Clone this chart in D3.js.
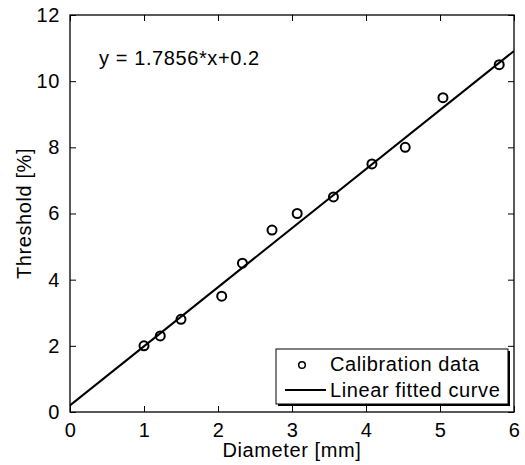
<!DOCTYPE html>
<html>
<head>
<meta charset="utf-8">
<script src="https://cdn.jsdelivr.net/npm/d3@7"></script>
<style>
  body { margin: 0; background: #fff; }
  text { font-family: "Liberation Sans", Arial, sans-serif; fill: #000; letter-spacing: 0.6px; }
</style>
</head>
<body>
<div id="chart"></div>
<script>
// calibration points
var diameter  = [1.0, 1.22, 1.5, 2.05, 2.33, 2.73, 3.07, 3.56, 4.08, 4.53, 5.04, 5.8];
var threshold = [2.0, 2.3, 2.8, 3.5, 4.5, 5.5, 6.0, 6.5, 7.5, 8.0, 9.5, 10.5];
var slope = 1.7856, intercept = 0.2;
var xTicks = [0, 1, 2, 3, 4, 5, 6];
var yTicks = [0, 2, 4, 6, 8, 10, 12];

var width = 525, height = 465;
var margin = {left: 70, right: 11, top: 15, bottom: 53};
var fs = "20px";

var svg = d3.select("#chart").append("svg")
    .attr("width", width)
    .attr("height", height);

var xScale = d3.scaleLinear().domain([0, 6]).range([margin.left, width - margin.right]);
var yScale = d3.scaleLinear().domain([0, 12]).range([height - margin.bottom, margin.top]);

var data = diameter.map((d, i) => ({x: d, y: threshold[i]}));

/* axes: ticks inside, on all four sides */
var tickLen = 6;
svg.append("g")
    .attr("transform", `translate(0, ${yScale(0)})`)
    .call(d3.axisBottom(xScale).tickValues(xTicks).tickSize(-tickLen).tickPadding(11).tickFormat(d3.format("d")))
    .call(g => g.selectAll("text").style("font-size", fs))
    .call(g => g.select(".domain").remove());
svg.append("g")
    .attr("transform", `translate(0, ${yScale(12)})`)
    .call(d3.axisTop(xScale).tickValues(xTicks).tickSize(-tickLen).tickFormat(""))
    .call(g => g.select(".domain").remove());
svg.append("g")
    .attr("transform", `translate(${xScale(0)}, 0)`)
    .call(d3.axisLeft(yScale).tickValues(yTicks).tickSize(-tickLen).tickPadding(10).tickFormat(d3.format("d")))
    .call(g => g.selectAll("text").style("font-size", fs))
    .call(g => g.select(".domain").remove());
svg.append("g")
    .attr("transform", `translate(${xScale(6)}, 0)`)
    .call(d3.axisRight(yScale).tickValues(yTicks).tickSize(-tickLen).tickFormat(""))
    .call(g => g.select(".domain").remove());

svg.selectAll(".tick line").attr("stroke", "#000");

svg.append("rect")
    .attr("x", xScale(0))
    .attr("y", yScale(12))
    .attr("width", xScale(6) - xScale(0))
    .attr("height", yScale(0) - yScale(12))
    .attr("fill", "none")
    .attr("stroke", "#000")
    .attr("stroke-width", 1.3);

/* fitted line */
var plot = svg.append("g");
plot.append("clipPath").attr("id", "clip")
    .append("rect")
    .attr("x", xScale(0)).attr("y", yScale(12))
    .attr("width", xScale(6) - xScale(0)).attr("height", yScale(0) - yScale(12));

plot.append("line")
    .attr("clip-path", "url(#clip)")
    .attr("x1", xScale(0)).attr("y1", yScale(intercept))
    .attr("x2", xScale(6)).attr("y2", yScale(slope * 6 + intercept))
    .attr("stroke", "#000")
    .attr("stroke-width", 2);

/* data points */
plot.selectAll("circle")
    .data(data)
    .join("circle")
    .attr("cx", d => xScale(d.x))
    .attr("cy", d => yScale(d.y))
    .attr("r", 4.5)
    .attr("fill", "none")
    .attr("stroke", "#000")
    .attr("stroke-width", 2);

/* equation */
svg.append("text")
    .attr("x", 99)
    .attr("y", 65)
    .style("font-size", fs)
    .text("y = " + slope + "*x+" + intercept);

/* axis labels */
svg.append("text")
    .attr("x", (xScale(0) + xScale(6)) / 2)
    .attr("y", 457)
    .attr("text-anchor", "middle")
    .style("font-size", fs)
    .text("Diameter [mm]");

svg.append("text")
    .attr("transform", `translate(31, ${(yScale(0) + yScale(12)) / 2}) rotate(-90)`)
    .attr("text-anchor", "middle")
    .style("font-size", fs)
    .text("Threshold [%]");

/* legend */
var lg = svg.append("g");
lg.append("rect")
    .attr("x", 278).attr("y", 351)
    .attr("width", 232).attr("height", 55)
    .attr("fill", "#000");
lg.append("rect")
    .attr("x", 276).attr("y", 349)
    .attr("width", 232).attr("height", 55)
    .attr("fill", "#fff")
    .attr("stroke", "#000")
    .attr("stroke-width", 1);
lg.append("circle")
    .attr("cx", 302).attr("cy", 365)
    .attr("r", 3.3)
    .attr("fill", "none")
    .attr("stroke", "#000")
    .attr("stroke-width", 1.5);
lg.append("text")
    .attr("x", 330).attr("y", 371)
    .style("font-size", fs)
    .text("Calibration data");
lg.append("line")
    .attr("x1", 285).attr("x2", 326)
    .attr("y1", 390).attr("y2", 390)
    .attr("stroke", "#000")
    .attr("stroke-width", 2);
lg.append("text")
    .attr("x", 330).attr("y", 397)
    .style("font-size", fs)
    .text("Linear fitted curve");
</script>
</body>
</html>
